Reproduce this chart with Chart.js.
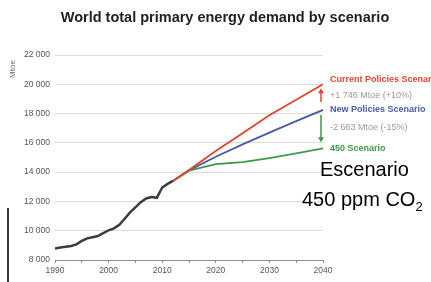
<!DOCTYPE html>
<html lang="en">
<head>
<meta charset="utf-8">
<title>World total primary energy demand by scenario</title>
<script src="https://cdn.jsdelivr.net/npm/chart.js"></script>
<style>
  html, body { margin: 0; padding: 0; background: #fff; }
  #wrap { position: relative; width: 431px; height: 282px; overflow: hidden; }
  #edge { position: absolute; left: 7px; top: 208px; height: 74px; border-left: 2px solid #333; }
  .note { position: absolute; font-family: "Liberation Sans", Arial, sans-serif; font-size: 20px; color: #000; white-space: nowrap; }
  .note sub { font-size: 13px; }
</style>
</head>
<body>
<div id="wrap">
  <canvas id="energyChart" width="431" height="282"></canvas>
  <div id="edge"></div>
  <div class="note" style="left:320px; top:158px;">Escenario</div>
  <div class="note" style="left:302px; top:188px;">450 ppm CO<sub>2</sub></div>
</div>

<script>
  // historical demand, Mtoe
  const histYears = [1990, 1991, 1992, 1993, 1994, 1995, 1996, 1997, 1998, 1999, 2000, 2001,
                     2002, 2003, 2004, 2005, 2006, 2007, 2008, 2009, 2010, 2011, 2012];
  const histValues = [8780, 8860, 8900, 8960, 9070, 9300, 9480, 9560, 9640, 9830, 10030, 10160,
                      10400, 10820, 11250, 11600, 11950, 12200, 12300, 12250, 12950, 13200, 13400];

  // scenarios
  const projYears = [2012, 2015, 2020, 2025, 2030, 2035, 2040];
  const currentPolicies = [13400, 14150, 15450, 16650, 17880, 18950, 20000];
  const newPolicies = [13400, 14120, 15050, 15900, 16700, 17480, 18250];
  const scenario450 = [13400, 14100, 14550, 14680, 14950, 15280, 15630];

  const yTicks = [8000, 10000, 12000, 14000, 16000, 18000, 20000, 22000];
  const xLabels = [1990, 2000, 2010, 2020, 2030, 2040];

  const toPoints = (xs, ys) => xs.map((x, i) => ({ x: x, y: ys[i] }));
  const fmt = v => String(v).replace(/\B(?=(\d{3})+(?!\d))/g, ' ');

  const FONT = '"Liberation Sans", Arial, sans-serif';

  const notes = {
    id: 'notes',
    afterDraw(chart) {
      const c = chart.ctx;
      const xs = chart.scales.x, ys = chart.scales.y;
      const last = projYears.length - 1;
      const xEnd = xs.getPixelForValue(projYears[last]);
      const yC = ys.getPixelForValue(currentPolicies[last]);
      const yN = ys.getPixelForValue(newPolicies[last]);
      const y4 = ys.getPixelForValue(scenario450[last]);

      c.save();
      // title
      c.fillStyle = '#222';
      c.font = 'bold 14.5px ' + FONT;
      c.textAlign = 'center';
      c.textBaseline = 'middle';
      c.fillText('World total primary energy demand by scenario', 225, 18);

      // unit
      c.save();
      c.translate(13, 69);
      c.rotate(-Math.PI / 2);
      c.fillStyle = '#666';
      c.font = '8px ' + FONT;
      c.fillText('Mtoe', 0, 0);
      c.restore();

      // arrows
      const ax = xEnd - 2;
      function arrow(y0, y1, col) {
        const dir = y1 > y0 ? 1 : -1;
        c.strokeStyle = col; c.fillStyle = col; c.lineWidth = 1.5;
        c.beginPath(); c.moveTo(ax, y0); c.lineTo(ax, y1 - dir * 4); c.stroke();
        c.beginPath(); c.moveTo(ax, y1); c.lineTo(ax - 3, y1 - dir * 5); c.lineTo(ax + 3, y1 - dir * 5);
        c.closePath(); c.fill();
      }
      arrow(yN - 8, yC + 4, '#e0442c');
      arrow(yN + 5, y4 - 6, '#3d9a45');

      // labels
      const lx = xEnd + 7;
      c.textAlign = 'left';
      c.font = 'bold 9px ' + FONT;
      c.fillStyle = '#e0442c';
      c.fillText('Current Policies Scenario', lx, yC - 5);
      c.fillStyle = '#4a5aa8';
      c.fillText('New Policies Scenario', lx, yN);
      c.fillStyle = '#3d9a45';
      c.fillText('450 Scenario', lx, y4);
      c.font = '9px ' + FONT;
      c.fillStyle = '#9a9a9a';
      c.fillText('+1 746 Mtoe (+10%)', lx, (yC + yN) / 2 - 2);
      c.fillText('-2 663 Mtoe (-15%)', lx, (yN + y4) / 2 - 2);
      c.restore();
    }
  };

  const ctx = document.getElementById('energyChart').getContext('2d');
  new Chart(ctx, {
    type: 'line',
    data: {
      datasets: [
        { label: 'Historical', data: toPoints(histYears, histValues), borderColor: '#3c3c3c', borderWidth: 2.5 },
        { label: 'Current Policies Scenario', data: toPoints(projYears, currentPolicies), borderColor: '#e0442c', borderWidth: 1.8 },
        { label: '450 Scenario', data: toPoints(projYears, scenario450), borderColor: '#3d9a45', borderWidth: 1.8 },
        { label: 'New Policies Scenario', data: toPoints(projYears, newPolicies), borderColor: '#4a5aa8', borderWidth: 1.8 }
      ]
    },
    options: {
      responsive: false,
      animation: false,
      elements: { point: { radius: 0 }, line: { tension: 0 } },
      layout: { padding: { top: 55, right: 108, bottom: 0, left: 0 } },
      plugins: { legend: { display: false }, tooltip: { enabled: false } },
      scales: {
        x: {
          type: 'linear', min: 1990, max: 2040,
          afterFit: s => { s.height = 22; },
          border: { color: '#8c8c8c', width: 1 },
          grid: { drawOnChartArea: false, drawTicks: true, tickLength: 3, tickColor: '#8c8c8c' },
          ticks: {
            stepSize: 5, padding: 3, color: '#555', font: { family: FONT, size: 8.5 },
            callback: v => xLabels.includes(v) ? String(v) : ''
          }
        },
        y: {
          min: yTicks[0], max: yTicks[yTicks.length - 1],
          afterFit: s => { s.width = 55; },
          border: { display: false },
          grid: { color: '#dcdcdc', lineWidth: 1, drawTicks: false },
          ticks: {
            stepSize: 2000, padding: 5, color: '#555', font: { family: FONT, size: 8.5 },
            callback: v => fmt(v)
          }
        }
      }
    },
    plugins: [notes]
  });
</script>
</body>
</html>
